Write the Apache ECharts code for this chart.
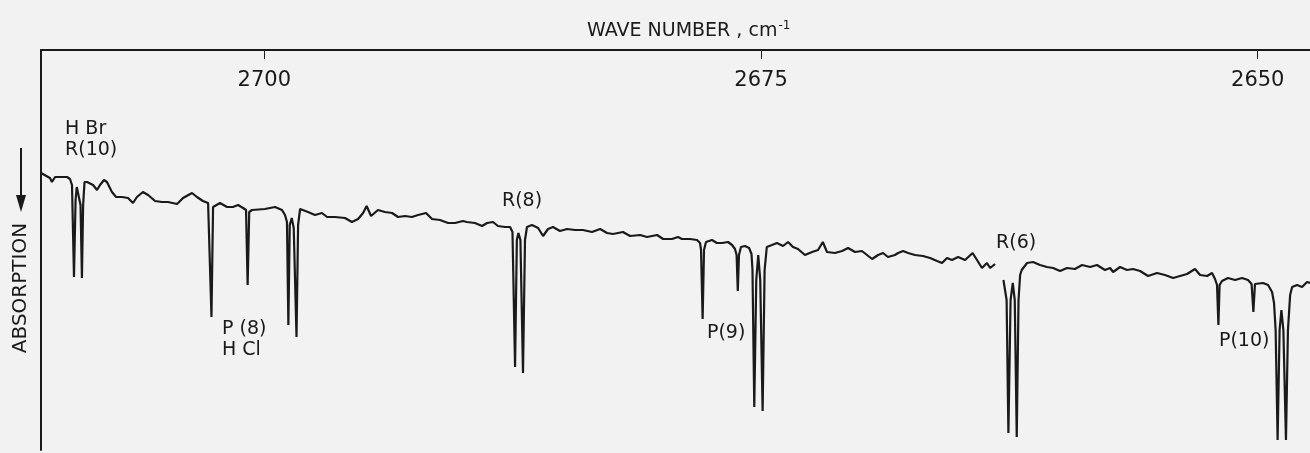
<!DOCTYPE html>
<html>
<head>
<meta charset="utf-8">
<script src="https://cdn.jsdelivr.net/npm/echarts@6/dist/echarts.min.js"></script>
<style>
  html, body { margin: 0; padding: 0; background: #f2f2f2; }
  #chart { width: 1310px; height: 453px; }
</style>
</head>
<body>
<div id="chart"></div>
<script>
// trace before the pen lift (wave number, cm-1 / recorder signal)
var wnA = [2711.24, 2711.14, 2710.79, 2710.69, 2710.53, 2710.28, 2709.93, 2709.78, 2709.68, 2709.58,
  2709.50, 2709.44, 2709.35, 2709.25, 2709.18, 2709.12, 2709.05, 2708.92, 2708.62, 2708.42,
  2708.27, 2708.07, 2707.92, 2707.67, 2707.46, 2707.16, 2706.86, 2706.61, 2706.41, 2706.11,
  2705.85, 2705.50, 2705.15, 2704.85, 2704.39, 2704.09, 2703.64, 2703.39, 2703.09, 2702.83,
  2702.73, 2702.66, 2702.58, 2702.48, 2702.23, 2701.88, 2701.58, 2701.32, 2701.07, 2700.92,
  2700.84, 2700.76, 2700.62, 2699.97, 2699.46, 2699.11, 2698.96, 2698.86, 2698.79, 2698.72,
  2698.62, 2698.52, 2698.38, 2698.30, 2698.20, 2698.10, 2697.80, 2697.45, 2697.10, 2696.84,
  2696.44, 2695.94, 2695.59, 2695.28, 2695.03, 2694.85, 2694.63, 2694.28, 2693.93, 2693.57,
  2693.27, 2692.92, 2692.57, 2692.26, 2691.86, 2691.56, 2691.16, 2690.75, 2690.40, 2690.00,
  2689.81, 2689.40, 2689.04, 2688.79, 2688.49, 2688.24, 2687.89, 2687.63, 2687.51, 2687.38,
  2687.29, 2687.21, 2687.11, 2686.98, 2686.88, 2686.78, 2686.53, 2686.22, 2685.97, 2685.72,
  2685.47, 2685.12, 2684.76, 2684.36, 2683.96, 2683.51, 2683.10, 2682.75, 2682.45, 2681.95,
  2681.59, 2681.09, 2680.74, 2680.23, 2679.93, 2679.48, 2679.18, 2678.98, 2678.57, 2678.22,
  2678.07, 2678.02, 2677.94, 2677.87, 2677.77, 2677.47, 2677.22, 2676.96, 2676.66, 2676.46,
  2676.31, 2676.23, 2676.17, 2676.11, 2676.01, 2675.81, 2675.60, 2675.48, 2675.43, 2675.34,
  2675.24, 2675.14, 2675.04, 2674.92, 2674.82, 2674.71, 2674.45, 2674.20, 2673.89, 2673.64,
  2673.39, 2673.14, 2672.79, 2672.43, 2672.13, 2671.89, 2671.68, 2671.28, 2670.92, 2670.62,
  2670.27, 2669.92, 2669.41, 2669.11, 2668.86, 2668.61, 2668.26, 2668.10, 2667.85, 2667.60,
  2667.25, 2666.85, 2666.49, 2666.14, 2665.89, 2665.64, 2665.39, 2665.08, 2664.73, 2664.35,
  2664.13, 2663.88, 2663.63, 2663.47, 2663.22];
var sigA = [69.25, 68.75, 68, 67, 68.25, 68.25, 68.25, 67.75, 66.25, 43.25,
  62.5, 65.75, 65.5, 61.25, 43, 61.25, 67, 67, 66.25, 65,
  66.25, 67.5, 67, 64.5, 63.25, 63.25, 63, 61.75, 63.25, 64.5,
  63.75, 62.25, 62, 62, 61.5, 63, 64.25, 63.25, 62.25, 61.75,
  61.25, 33.25, 60.75, 61.25, 61.75, 60.75, 60.75, 61.25, 60.5, 60,
  41.25, 59.5, 60, 60.25, 60.75, 60, 58.75, 57, 31.25, 56.25,
  58, 55.5, 28.25, 56.25, 60.25, 60.75, 59.5, 58.75, 59.25, 58.25,
  58.25, 58, 57, 57.75, 59.25, 61, 58.5, 60, 59.5, 59.25,
  58.25, 58.5, 58.25, 58.75, 59.25, 57.75, 57.5, 56.75, 56.75, 57.25,
  57, 56.75, 56, 56.75, 57, 56, 55.75, 55.75, 54.5, 20.75,
  52.5, 54.25, 52.5, 19.25, 52.5, 55.75, 56.25, 55.5, 53.5, 55.25,
  55.75, 54.75, 55.25, 55, 55, 54.5, 55.25, 54.25, 54, 54.5,
  53.5, 53.75, 53.25, 53.75, 52.75, 52.75, 53.25, 52.75, 52.75, 52.5,
  51.75, 50, 32.75, 50, 52, 52.5, 51.75, 51.75, 52, 51.25,
  50.25, 48.75, 39.75, 48.75, 50.75, 51, 50.5, 49, 45, 10.75,
  42.5, 48.75, 42.5, 9.75, 45, 50.75, 51.25, 51.75, 51, 52,
  50.75, 50.25, 48.75, 49.5, 50, 52, 49.5, 49.25, 49.75, 50.5,
  49.5, 49.75, 47.75, 48.75, 49.25, 48.25, 48.75, 49.25, 49.75, 49.25,
  48.75, 48.5, 48, 47.25, 46.75, 48, 47.5, 48.25, 47.5, 49.25,
  47.5, 45.5, 46.75, 45.5, 46.5];

// trace after the pen lift
var wnB = [2662.80, 2662.72, 2662.64, 2662.55, 2662.44, 2662.33, 2662.23, 2662.13, 2662.04, 2661.96,
  2661.88, 2661.61, 2661.31, 2660.96, 2660.61, 2660.30, 2659.95, 2659.60, 2659.20, 2658.84,
  2658.44, 2658.09, 2657.69, 2657.43, 2657.28, 2656.93, 2656.58, 2656.28, 2655.92, 2655.52,
  2655.07, 2654.67, 2654.26, 2653.91, 2653.56, 2653.16, 2652.90, 2652.55, 2652.30, 2652.15,
  2652.05, 2651.98, 2651.92, 2651.80, 2651.50, 2651.14, 2650.79, 2650.49, 2650.31, 2650.22,
  2650.14, 2650.04, 2649.73, 2649.48, 2649.28, 2649.18, 2649.10, 2649.00, 2648.90, 2648.81,
  2648.71, 2648.58, 2648.48, 2648.37, 2648.27, 2648.02, 2647.77, 2647.52, 2647.37];
var sigB = [42.5, 42, 37.5, 4.25, 37.5, 41.75, 37.5, 3.25, 37.5, 43.75,
  45, 46.75, 47, 46.25, 45.75, 45.5, 44.75, 45.5, 45.25, 46.25,
  45.75, 46.25, 45, 45.5, 44.5, 45.75, 45, 45.25, 44.75, 43.5,
  44.25, 43.75, 43, 43.5, 44, 45.25, 43.75, 43.5, 44.25, 42.75,
  41.25, 31.25, 41.25, 42.25, 43, 42.5, 43, 42.5, 41.5, 34.5,
  41.5, 42, 41.75, 41.25, 39.5, 36.75, 30, 2.5, 30, 35,
  30, 2.5, 30, 38.75, 40.75, 41.25, 40.75, 42, 41.75];

var tickValues = [2700, 2675, 2650];

// line labels: text, wave number of left edge, signal at text middle
var labelTexts = ['H Br\nR(10)', 'P (8)\nH Cl', 'R(8)', 'P(9)', 'R(6)', 'P(10)'];
var labelWn = [2710.03, 2702.13, 2688.04, 2677.72, 2663.17, 2651.95];
var labelSig = [77.6, 27.5, 62.25, 29.25, 51.75, 27.25];

function pairs(xs, ys) {
  var out = [];
  for (var i = 0; i < xs.length; i++) out.push([xs[i], ys[i]]);
  return out;
}

var font = 'DejaVu Sans';
var ink = '#1a1a1a';

var myChart = echarts.init(document.getElementById('chart'));
var option = {
  backgroundColor: '#f2f2f2',
  animation: false,
  title: {
    text: '{a|WAVE NUMBER , cm}{s|-1}',
    left: 582,
    top: 15,
    textStyle: {
      rich: {
        a: { fontFamily: font, fontSize: 19, fontWeight: 'normal', color: ink },
        s: { fontFamily: font, fontSize: 12, fontWeight: 'normal', color: ink, verticalAlign: 'top', padding: [0, 0, 10, 1] }
      }
    }
  },
  grid: { left: 41, right: 0, top: 50, bottom: 3 },
  xAxis: {
    type: 'value',
    position: 'top',
    inverse: true,
    min: 2647.37,
    max: 2711.24,
    axisLine: { show: true, onZero: false, lineStyle: { color: ink, width: 2 } },
    axisTick: { show: true, inside: true, length: 9, customValues: tickValues, lineStyle: { color: ink, width: 1 } },
    axisLabel: {
      show: true, inside: true, margin: 20, customValues: tickValues,
      formatter: function(v) { return String(v); },
      fontFamily: font, fontSize: 21, color: ink
    },
    splitLine: { show: false }
  },
  yAxis: {
    type: 'value',
    min: 0,
    max: 100,
    axisLine: { show: true, onZero: false, lineStyle: { color: ink, width: 2 } },
    axisTick: { show: false },
    axisLabel: { show: false },
    splitLine: { show: false }
  },
  graphic: [
    { type: 'line', shape: { x1: 21, y1: 148, x2: 21, y2: 200 }, style: { stroke: ink, lineWidth: 2 } },
    { type: 'polygon', shape: { points: [[16, 195], [26, 195], [21, 212]] }, style: { fill: ink } },
    { type: 'text', x: 21, y: 288, rotation: Math.PI / 2,
      style: { text: 'ABSORPTION', fontFamily: font, fontSize: 20, fill: ink, align: 'center', verticalAlign: 'middle' } }
  ],
  series: [
    {
      type: 'line',
      data: pairs(wnA, sigA),
      showSymbol: false,
      lineStyle: { color: ink, width: 2.2 }
    },
    {
      type: 'line',
      data: pairs(wnB, sigB),
      showSymbol: false,
      lineStyle: { color: ink, width: 2.2 }
    },
    {
      type: 'scatter',
      symbolSize: 0,
      itemStyle: { opacity: 1 },
      data: labelTexts.map(function(t, i) { return [labelWn[i], labelSig[i], t]; }),
      label: {
        show: true,
        position: [0, 0],
        align: 'left',
        verticalAlign: 'middle',
        formatter: function(p) { return p.data[2]; },
        fontFamily: font,
        fontSize: 19,
        lineHeight: 21,
        color: ink,
        opacity: 1
      }
    }
  ]
};
myChart.setOption(option);
</script>
</body>
</html>
